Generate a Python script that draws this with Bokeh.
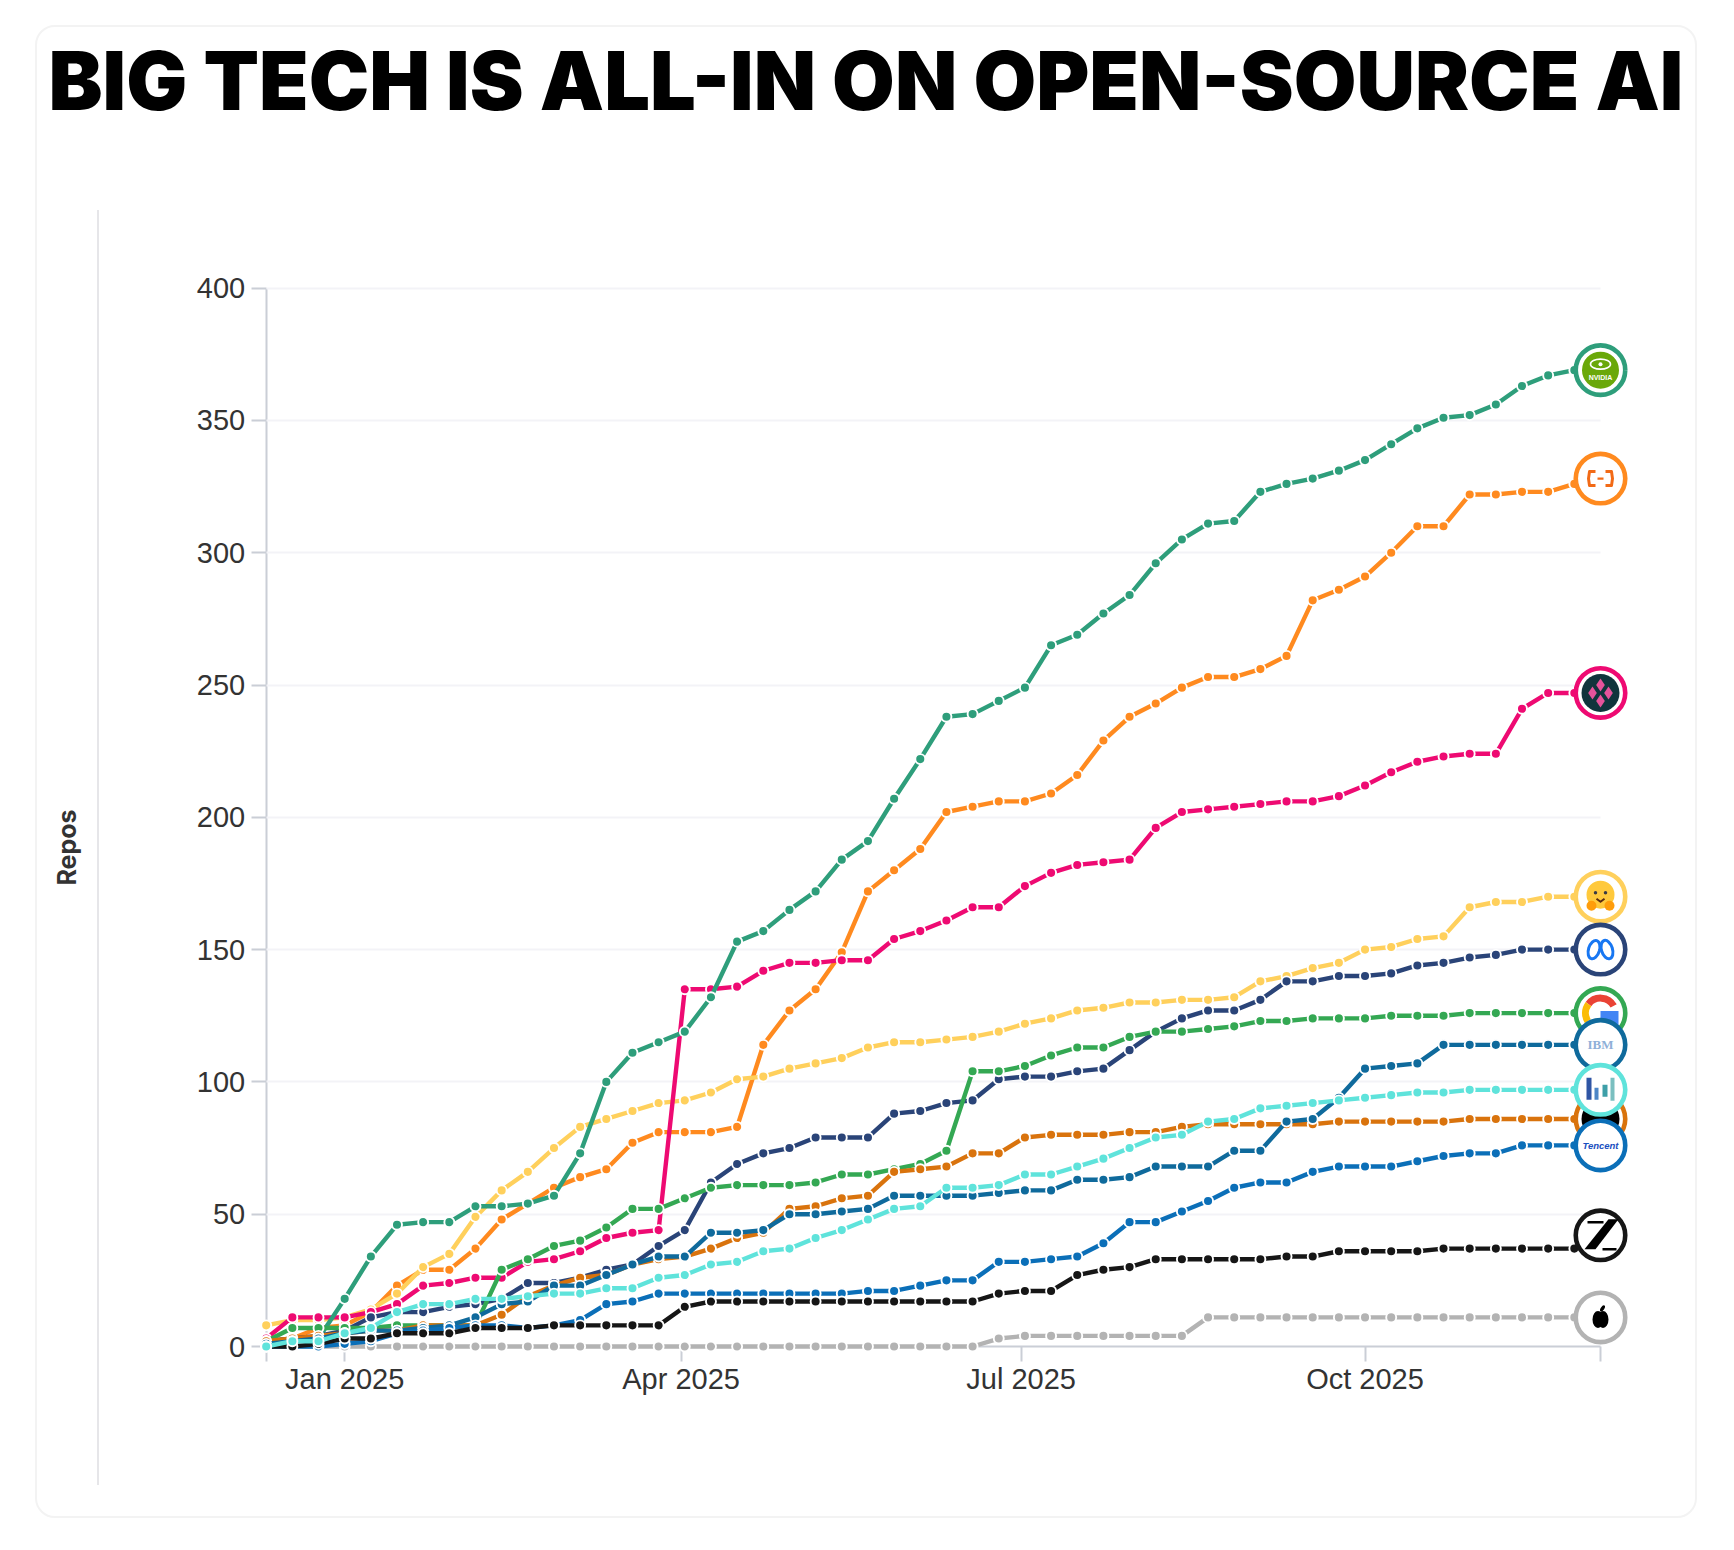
import pandas as pd
from bokeh.plotting import figure
from bokeh.embed import file_html
from bokeh.resources import INLINE
from bokeh.core.properties import value
from bokeh.models import (Range1d, LinearAxis, DatetimeAxis, FixedTicker, Grid, Title, InlineStyleSheet)

TITLE = "BIG TECH IS ALL-IN ON OPEN-SOURCE AI"
Y_LABEL = "Repos"
Y_TICKS = [0, 50, 100, 150, 200, 250, 300, 350, 400]
X_TICK_DATES = ["2024-12-11", "2025-01-01", "2025-04-01", "2025-07-01", "2025-10-01", "2025-12-03"]
X_TICK_LABELS = ["", "Jan 2025", "Apr 2025", "Jul 2025", "Oct 2025", ""]

weeks = pd.date_range("2024-12-11", periods=52, freq="7D")

nvidia = [1,2,3,18,34,46,47,47,53,53,54,57,73,100,111,115,119,132,153,157,165,172,184,191,207,222,238,239,244,249,265,269,277,284,296,305,311,312,323,326,328,331,335,341,347,351,352,356,363,367,369,369]
alibaba = [2,3,7,8,13,23,29,29,37,48,54,60,64,67,77,81,81,81,83,114,127,135,149,172,180,188,202,204,206,206,209,216,229,238,243,249,253,253,256,261,282,286,291,300,310,310,322,322,323,323,326,328]
deepseekish = [3,11,11,11,13,16,23,24,26,26,32,33,36,41,43,44,135,135,136,142,145,145,146,146,154,157,161,166,166,174,179,182,183,184,196,202,203,204,205,206,206,208,212,217,221,223,224,224,241,247,247,247]
huggingface = [8,10,10,11,14,20,30,35,49,59,66,75,83,86,89,92,93,96,101,102,105,107,109,113,115,115,116,117,119,122,124,127,128,130,130,131,131,132,138,140,143,145,150,151,154,155,166,168,168,170,170,170]
meta = [2,3,4,6,11,13,13,15,16,18,24,24,26,29,31,38,44,62,69,73,75,79,79,79,88,89,92,93,101,102,102,104,105,112,119,124,127,127,131,138,138,140,140,141,144,145,147,148,150,150,150,150]
google = [2,7,7,7,7,8,8,8,8,29,33,38,40,45,52,52,56,60,61,61,61,62,65,65,67,69,74,104,104,106,110,113,113,117,119,119,120,121,123,123,124,124,124,125,125,125,126,126,126,126,126,126]
ibm = [1,2,3,5,6,6,7,8,11,16,17,23,23,27,31,34,34,43,43,44,50,50,51,52,57,57,57,57,58,59,59,63,63,64,68,68,68,74,74,85,86,94,105,106,107,114,114,114,114,114,114,114]
darkorg = [2,3,4,5,6,6,8,8,8,12,19,23,26,27,31,33,34,37,41,43,52,53,56,57,66,67,68,73,73,79,80,80,80,81,81,83,84,84,84,84,84,85,85,85,85,85,86,86,86,86,86,86]
cyan = [0,2,2,5,7,13,16,16,18,18,19,20,20,22,22,26,27,31,32,36,37,41,44,48,52,53,60,60,61,65,65,68,71,75,79,80,85,86,90,91,92,93,94,95,96,96,97,97,97,97,97,97]
tencent = [0,0,0,1,2,5,6,7,8,8,7,8,10,16,17,20,20,20,20,20,20,20,20,21,21,23,25,25,32,32,33,34,39,47,47,51,55,60,62,62,66,68,68,68,70,72,73,73,76,76,76,76]
zhipu = [0,0,1,3,3,5,5,5,7,7,7,8,8,8,8,8,15,17,17,17,17,17,17,17,17,17,17,17,20,21,21,27,29,30,33,33,33,33,33,34,34,36,36,36,36,37,37,37,37,37,37,42]
apple = [0,0,0,0,0,0,0,0,0,0,0,0,0,0,0,0,0,0,0,0,0,0,0,0,0,0,0,0,3,4,4,4,4,4,4,4,11,11,11,11,11,11,11,11,11,11,11,11,11,11,11,11]

C_NV, C_AL, C_PK, C_HF, C_ME, C_GO = "#2E9E7B", "#FF8A1F", "#EE0A72", "#FFD05C", "#2A4478", "#34A853"
C_IB, C_DO, C_CY, C_TE, C_ZH, C_AP = "#0F6A9C", "#D9730D", "#5FE3DB", "#0B6FB8", "#161616", "#B3B3B3"

series = [(alibaba, C_AL), (huggingface, C_HF), (deepseekish, C_PK), (nvidia, C_NV), (meta, C_ME), (google, C_GO),
          (darkorg, C_DO), (ibm, C_IB), (apple, C_AP), (tencent, C_TE), (zhipu, C_ZH), (cyan, C_CY)]

PX_X0, PX_X1, PX_Y0 = 265.7, 1600.0, 1346.0
PX_PER_UNIT = 2.646
t0 = weeks[0].timestamp() * 1000
t1 = weeks[-1].timestamp() * 1000
MS_PER_PX = (t1 - t0) / (PX_X1 - PX_X0)
def X(px): return t0 + (px - PX_X0) * MS_PER_PX
def Y(py): return (PX_Y0 - py) / PX_PER_UNIT

W, H = 1718, 1534
FL, FR, FT, FB = 81, 1680, 129, 1420
p = figure(width=W, height=H, output_backend="svg", toolbar_location=None,
           x_axis_type=None, y_axis_type=None,
           x_range=Range1d(X(FL), X(FR)), y_range=Range1d(Y(FB), Y(FT)),
           min_border_left=FL, min_border_right=W - FR, min_border_top=FT, min_border_bottom=H - FB)
p.outline_line_color = None
p.background_fill_color = None
p.border_fill_color = None
p.xgrid.visible = False
p.ygrid.visible = False

card_css = """
:host::before {content:''; position:absolute; left:35px; top:25px; width:1662px; height:1493px; box-sizing:border-box;
  border:2px solid #F3F3F3; border-radius:20px;}
:host::after {content:''; position:absolute; left:96.5px; top:210px; width:2px; height:1275px; background:#E6E6E9;}
"""
p.stylesheets = [InlineStyleSheet(css=card_css)]

p.add_layout(Title(text=Y_LABEL, text_font="Inter", text_font_style="bold", text_font_size="25px",
                   text_color="#333333", align="left", offset=FB - 885, standoff=0), "left")

FONT = "Liberation Sans"
y_axis = LinearAxis(ticker=FixedTicker(ticks=Y_TICKS), fixed_location=t0, bounds=(0, 400))
y_axis.major_tick_out = 15
y_axis.major_tick_in = 0
y_axis.minor_tick_out = 0
y_axis.minor_tick_in = 0
y_axis.major_label_standoff = 6
x_ticks = [int(pd.Timestamp(d).timestamp() * 1000) for d in X_TICK_DATES]
x_axis = DatetimeAxis(ticker=FixedTicker(ticks=x_ticks), fixed_location=0, bounds=(t0, t1),
                      major_label_overrides=dict(zip(x_ticks, X_TICK_LABELS)))
x_axis.major_tick_out = 15
x_axis.major_tick_in = 0
x_axis.minor_tick_out = 0
x_axis.minor_tick_in = 0
x_axis.major_label_standoff = 1
for ax in (x_axis, y_axis):
    ax.axis_line_color = "#CACED6"
    ax.axis_line_width = 2
    ax.major_tick_line_color = "#CACED6"
    ax.major_tick_line_width = 2
    ax.major_label_text_font = FONT
    ax.major_label_text_font_size = "29px"
    ax.major_label_text_color = "#333333"
    ax.level = "underlay"
p.add_layout(y_axis, "left")
p.add_layout(x_axis, "below")
p.add_layout(Grid(dimension=1, ticker=FixedTicker(ticks=Y_TICKS[1:]), cross_bounds=(t0, t1),
                  grid_line_color="#F3F3F7", grid_line_width=2))

for vals, col in series:
    p.line(weeks, vals, line_color=col, line_width=4.4, line_join="round")
    p.scatter(weeks, vals, size=10, fill_color=col, line_color="white", line_width=1.9)

tx = weeks[-1]
def ox(dx): return t1 + dx * MS_PER_PX
def oy(v, dy): return v - dy / PX_PER_UNIT
def ring(vals, col):
    p.scatter([tx], [vals[-1]], size=49.5, fill_color="white", line_color=col, line_width=4.6)
def txt(vals, s, size, col, dy=0, font="Liberation Sans", style="bold"):
    p.text([tx], [oy(vals[-1], dy)], text=[s], text_font=value(font), text_font_size=size, text_color=col,
           text_font_style=style, text_align="center", text_baseline="middle")
def dot(vals, dx, dy, size, col, marker="circle"):
    p.scatter([ox(dx)], [oy(vals[-1], dy)], size=size, marker=marker, fill_color=col, line_color=None)
def poly(vals, pts, col):
    p.patch([ox(a) for a, b in pts], [oy(vals[-1], b) for a, b in pts], fill_color=col, line_color=None)
def stroke(vals, pts, col, w):
    p.line([ox(a) for a, b in pts], [oy(vals[-1], b) for a, b in pts], line_color=col, line_width=w, line_join="round")
def oval(vals, dx, dy, w, h, col, lw=0, fill=None, angle=0):
    p.ellipse([ox(dx)], [oy(vals[-1], dy)], width=w, height=h, width_units="screen", height_units="screen", angle=angle,
              fill_color=fill, line_color=col, line_width=lw)
def arc(vals, r, a0, a1, col, w):
    p.arc([tx], [vals[-1]], radius=r, radius_units="screen", start_angle=a0, end_angle=a1,
          line_color=col, line_width=w)

ring(nvidia, C_NV)
dot(nvidia, 0, 0, 37, "#6AA80A")
oval(nvidia, 0, -6, 20, 10, "white", lw=1.6)
dot(nvidia, 0, -6, 4, "white")
txt(nvidia, "NVIDIA", "7px", "white", dy=7)
ring(alibaba, C_AL)
stroke(alibaba, [(-5, -7), (-11, -7), (-12, 0), (-11, 7), (-5, 7)], "#F26A16", 3)
stroke(alibaba, [(5, -7), (11, -7), (12, 0), (11, 7), (5, 7)], "#F26A16", 3)
stroke(alibaba, [(-3, 0), (3, 0)], "#F26A16", 2.2)
ring(deepseekish, C_PK)
dot(deepseekish, 0, 0, 38, "#10343C")
for a, b in [(0, -8), (0, 8), (-8, 0), (8, 0)]:
    dot(deepseekish, a, b, 13, "#E5539B", "diamond")
ring(huggingface, C_HF)
dot(huggingface, 0, -2, 28, "#FFC93C")
dot(huggingface, -9, 9, 10, "#FF9D0B")
dot(huggingface, 9, 9, 10, "#FF9D0B")
dot(huggingface, -5, -4, 3.5, "#3A3B45")
dot(huggingface, 5, -4, 3.5, "#3A3B45")
stroke(huggingface, [(-4, 2), (0, 5), (4, 2)], "#5A2A10", 2)
ring(meta, C_ME)
oval(meta, -6.5, 0, 11, 19, "#1877F2", lw=3, angle=-0.3)
oval(meta, 6.5, 0, 11, 19, "#1877F2", lw=3, angle=0.3)
ring(google, C_GO)
arc(google, 15, 0.5, 2.5, "#EA4335", 7)
arc(google, 15, 2.5, 3.7, "#FBBC05", 7)
poly(google, [(0, -2), (18, -2), (18, 18), (0, 18)], "#4285F4")
ring(ibm, C_IB)
txt(ibm, "IBM", "13px", "#8FB0D8", font="Liberation Serif")
ring(darkorg, C_DO)
dot(darkorg, 0, 0, 38, "#000000")
ring(tencent, C_TE)
txt(tencent, "Tencent", "9.5px", "#1A4FC0", style="bold italic")
ring(cyan, C_CY)
poly(cyan, [(-14, -12), (-9, -12), (-9, 10), (-14, 10)], "#2F55A4")
poly(cyan, [(-6, -2), (-2, -2), (-2, 10), (-6, 10)], "#4D86C6")
poly(cyan, [(2, -5), (7, -5), (7, 7), (2, 7)], "#3E9FA8")
poly(cyan, [(10, -12), (14, -12), (14, 11), (10, 11)], "#7ABFC0")
ring(zhipu, C_ZH)
poly(zhipu, [(8, -16), (18, -16), (-5, 14), (-16, 14)], "#000000")
stroke(zhipu, [(-13, -13), (3, -13)], "#000000", 2.5)
stroke(zhipu, [(2, 14), (16, 14)], "#000000", 2.5)
ring(apple, C_AP)
oval(apple, -2.5, 2, 11, 17, None, fill="#000000")
oval(apple, 2.5, 2, 11, 17, None, fill="#000000")
oval(apple, 2, -9, 3.5, 7, None, fill="#000000", angle=-0.6)

p.add_layout(Title(text=TITLE, text_font="Inter Black, Inter", text_font_style="bold", text_font_size="81px",
                   text_color="#000000", align="left", offset=48 - FL, standoff=0), "above")

open("out.html", "w").write(file_html(p, INLINE))
